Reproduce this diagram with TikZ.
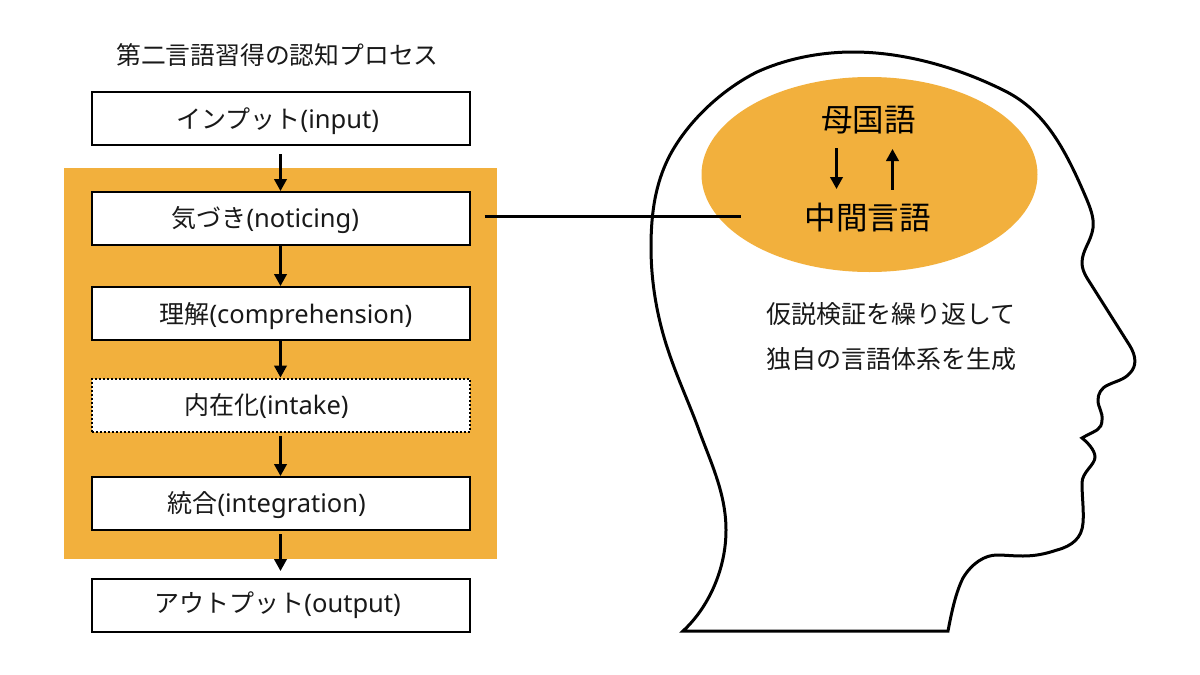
\documentclass[tikz,border=0pt]{standalone}
\usepackage{fontspec}
\setmainfont{Noto Sans CJK JP}
\newfontfamily\lat{Noto Sans}
\usetikzlibrary{arrows.meta,shapes.geometric}
\definecolor{amber}{HTML}{F2B03D}
\newcommand{\boxtext}[3]{\makebox[378pt][l]{\hspace*{#1pt}#2{\lat\fontsize{25.5}{28}\selectfont #3}}}
\tikzset{
  flowbox/.style={draw=black,line width=2pt,fill=white,minimum width=378pt,minimum height=53pt,inner sep=0pt,text height=18pt,text depth=0pt,font=\fontsize{25}{28}\selectfont,text=black!90},
  flowarrow/.style={line width=2.6pt,-{Triangle[length=12pt,width=12.5pt]}},
  bigtext/.style={font=\fontsize{31.5}{36}\selectfont,inner sep=0pt},
  bodytext/.style={font=\fontsize{25}{30}\selectfont,inner sep=0pt,text=black!90}
}
\begin{document}
\begin{tikzpicture}[x=1pt,y=-1pt]
\useasboundingbox (0,0) rectangle (1200,675);
\fill[white] (0,0) rectangle (1200,675);
\fill[amber] (64,168) rectangle (497,559);
\node[inner sep=0pt,font=\fontsize{24.8}{30}\selectfont,text=black!90] (title) at (277.5,55.5) {第二言語習得の認知プロセス};
\node[flowbox,text height=20pt] (input) at (280.5,118.5) {\boxtext{85}{インプット}{(input)}};
\node[flowbox] (notice) at (280.5,218.5) {\boxtext{80}{気づき}{(noticing)}};
\node[flowbox,text height=20pt] (compre) at (280.5,313.5) {\boxtext{68}{理解}{(comprehension)}};
\node[flowbox,dotted] (intake) at (280.5,405) {\boxtext{93}{内在化}{(intake)}};
\node[flowbox] (integ) at (280.5,503.5) {\boxtext{76}{統合}{(integration)}};
\node[flowbox,text height=14pt] (output) at (280.5,605.5) {\boxtext{63}{アウトプット}{(output)}};
\draw[flowarrow,shorten <=8pt] (input) -- (notice);
\draw[flowarrow] (notice) -- (compre);
\draw[flowarrow] (compre) -- (intake);
\draw[flowarrow,shorten <=3pt] (intake) -- (integ);
\draw[flowarrow,shorten <=3pt,shorten >=7pt] (integ) -- (output);
% head
\draw[line width=3pt,line join=miter,fill=white]
  (683,631) .. controls (708,608) and (726,570) .. (726,530)
  .. controls (726,495) and (712,465) .. (700,433)
  .. controls (690,405) and (678,380) .. (668,350)
  .. controls (658,320) and (651,285) .. (651,247)
  .. controls (651,205) and (658,178) .. (670,155)
  .. controls (690,118) and (725,88) .. (757,72)
  .. controls (790,57) and (825,52) .. (853,52)
  .. controls (905,52) and (960,68) .. (1007,92)
  .. controls (1045,112) and (1065,148) .. (1087,200)
  .. controls (1092,212) and (1094,220) .. (1093,228)
  .. controls (1091,242) and (1082,250) .. (1082,263)
  .. controls (1082,268) and (1084,273) .. (1087,278)
  -- (1130,346)
  .. controls (1136,356) and (1137,366) .. (1130,373)
  .. controls (1124,380) and (1116,381) .. (1108,385)
  .. controls (1101,388) and (1098,394) .. (1098,400)
  .. controls (1098,408) and (1103,412) .. (1102,420)
  .. controls (1102,425) and (1100,428) .. (1097,430)
  .. controls (1092,433) and (1087,435) .. (1082,438)
  .. controls (1087,442) and (1095,450) .. (1095,457)
  .. controls (1095,465) and (1082,472) .. (1082,483)
  .. controls (1082,497) and (1084,510) .. (1083,523)
  .. controls (1082,538) and (1072,546) .. (1057,550)
  .. controls (1045,554) and (1035,556) .. (1023,556)
  .. controls (1012,556) and (1005,555) .. (997,555)
  .. controls (985,555) and (972,563) .. (963,578)
  .. controls (956,592) and (952,610) .. (948,631)
  -- cycle;
\node[ellipse,fill=amber,minimum width=336pt,minimum height=195pt,inner sep=0pt] (blob) at (869.5,174.5) {};
\node[bigtext] (bokoku) at (868.5,120) {母国語};
\node[bigtext] (chukan) at (867.5,218) {中間言語};
\coordinate (down1) at (836.5,148);
\coordinate (down2) at (836.5,189);
\coordinate (up1) at (892.5,189.5);
\coordinate (up2) at (892.5,149);
\draw[flowarrow] (down1) -- (down2);
\draw[flowarrow] (up1) -- (up2);
\coordinate (linkend) at (741,216.5);
\draw[line width=2.6pt,shorten <=14pt] (notice.east) ++(0,-2) -- (linkend);
\node[bodytext,anchor=west] (hypo) at (766,314) {仮説検証を繰り返して};
\node[bodytext,anchor=west] (own) at (766,359.5) {独自の言語体系を生成};
\end{tikzpicture}
\end{document}
